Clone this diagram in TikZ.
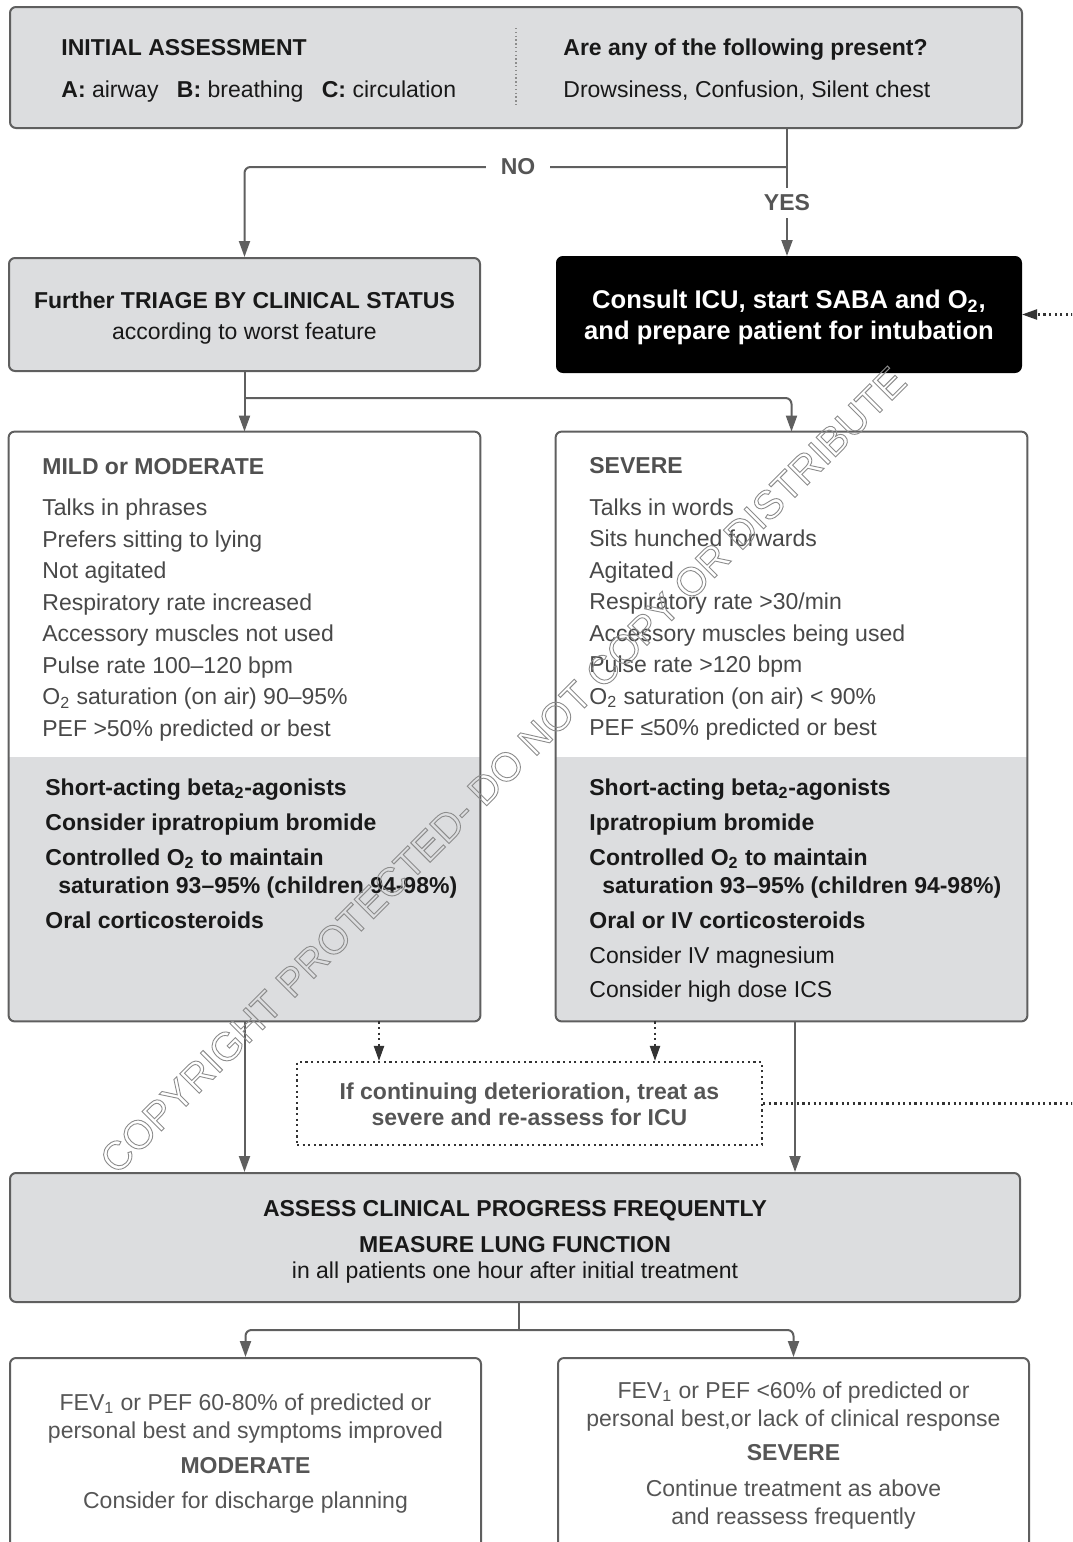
\documentclass[tikz,border=0pt]{standalone}
\usepackage{fontspec}
\setmainfont{Liberation Sans}
\usetikzlibrary{arrows.meta}
\definecolor{boxfill}{RGB}{220,221,223}
\definecolor{edge}{RGB}{95,95,95}
\definecolor{txtgray}{RGB}{72,72,72}
\definecolor{hdgray}{RGB}{80,80,80}
\definecolor{lblgray}{RGB}{85,85,85}
\definecolor{dark}{RGB}{25,25,25}
\definecolor{wmark}{RGB}{140,140,140}
\newcommand\fsz{\fontsize{11.5}{13.5}\selectfont}
\newcommand\fbig{\fontsize{12.8}{15}\selectfont}
\begin{document}
\begin{tikzpicture}[x=0.5pt,y=-0.5pt,
  box/.style={draw=edge, line width=1pt, rounded corners=3pt, inner sep=0pt},
  graybox/.style={box, fill=boxfill},
  conn/.style={draw=edge, line width=1pt},
  arr/.style={conn, -{Triangle[width=5.5pt,length=8pt]}},
  dotln/.style={draw=black!80, line width=1.1pt, dash pattern=on 1.1pt off 1.7pt},
  dotarr/.style={dotln, -{Triangle[width=5pt,length=7.5pt]}},
  lbl/.style={fill=white, text=lblgray, font=\bfseries\fsz, inner xsep=7.5pt, inner ysep=3.5pt},
  tl/.style={inner sep=0pt, anchor=base west, font=\fsz},
  tc/.style={inner sep=0pt, anchor=base, font=\fsz},
]
\useasboundingbox (0,0) rectangle (1072,1542);
\clip (0,0) rectangle (1072,1542);

% ---------- boxes ----------
\node[graybox, minimum width=506pt, minimum height=60.5pt] (top) at (516,67.5) {};
\node[graybox, minimum width=235.5pt, minimum height=56.5pt] (triage) at (244.5,314.5) {};
\node[box, fill=black, draw=black, minimum width=232pt, minimum height=57.5pt] (icu) at (789,314.5) {};
\node[inner sep=0pt, fill=white, rounded corners=3pt, minimum width=235.5pt, minimum height=294.5pt] (mild) at (244.5,726.5) {};
\node[inner sep=0pt, fill=white, rounded corners=3pt, minimum width=235.5pt, minimum height=294.5pt] (severe) at (791.5,726.5) {};
\begin{scope}
  \clip (0,757) rectangle (1072,1030);
  \fill[boxfill, rounded corners=3pt] (mild.south west) rectangle (mild.north east);
  \fill[boxfill, rounded corners=3pt] (severe.south west) rectangle (severe.north east);
\end{scope}
\draw[box] (mild.south west) rectangle (mild.north east);
\draw[box] (severe.south west) rectangle (severe.north east);
\node[draw=black!80, line width=1.1pt, dash pattern=on 1.1pt off 1.7pt, inner sep=0pt, minimum width=232.5pt, minimum height=41.5pt] (dotbox) at (529.5,1103.5) {};
\node[graybox, minimum width=505pt, minimum height=64.5pt] (assess) at (515,1237.5) {};
\node[box, fill=white, minimum width=235.5pt, minimum height=106pt] (modbox) at (245.5,1464) {};
\node[box, fill=white, minimum width=235.5pt, minimum height=106pt] (sevbox) at (793.5,1464) {};

% separator in top box
\draw[draw=black!45, line width=0.7pt, dash pattern=on 0.7pt off 1.2pt] (516,28) -- (516,107);

% ---------- texts ----------
\node[tl, text=dark, font=\bfseries\fsz] (ia) at (61,55) {INITIAL ASSESSMENT};
\node[tl, text=dark] (abc) at (61,97) {\textbf{A:} airway\hspace{0.8em}\textbf{B:} breathing\hspace{0.8em}\textbf{C:} circulation};
\node[tl, text=dark, font=\bfseries\fsz] (q) at (563,55) {Are any of the following present?};
\node[tl, text=dark] (dcs) at (563,97) {Drowsiness, Confusion, Silent chest};

\node[tc, text=dark, font=\bfseries\fsz] (tr1) at (244.5,308) {Further TRIAGE BY CLINICAL STATUS};
\node[tc, text=dark] (tr2) at (244.5,339) {according to worst feature};

\node[tc, text=white, font=\bfseries\fbig] (icu1) at (789,308) {Consult ICU, start SABA and O\textsubscript{2},};
\node[tc, text=white, font=\bfseries\fbig] (icu2) at (789,339) {and prepare patient for intubation};

\node[tl, text=hdgray, font=\bfseries\fsz] (mh) at (42,474) {MILD or MODERATE};
\foreach \t [count=\i] in {{Talks in phrases},{Prefers sitting to lying},{Not agitated},{Respiratory rate increased},{Accessory muscles not used},{Pulse rate 100–120 bpm},{O\textsubscript{2} saturation (on air) 90–95\%},{PEF >50\% predicted or best}}
  \node[tl, text=txtgray] (m\i) at (42,{515.5+31.5*(\i-1)}) {\t};

\node[tl, text=hdgray, font=\bfseries\fsz] (sh) at (589,473) {SEVERE};
\foreach \t [count=\i] in {{Talks in words},{Sits hunched forwards},{Agitated},{Respiratory rate >30/min},{Accessory muscles being used},{Pulse rate >120 bpm},{O\textsubscript{2} saturation (on air) < 90\%},{PEF ≤50\% predicted or best}}
  \node[tl, text=txtgray] (s\i) at (589,{515+31.5*(\i-1)}) {\t};

\node[tl, text=dark, font=\bfseries\fsz] (mt1) at (45,795) {Short-acting beta\textsubscript{2}-agonists};
\node[tl, text=dark, font=\bfseries\fsz] (mt2) at (45,830.5) {Consider ipratropium bromide};
\node[tl, text=dark, font=\bfseries\fsz] (mt3) at (45,865) {Controlled O\textsubscript{2} to maintain};
\node[tl, text=dark, font=\bfseries\fsz] (mt4) at (58,893) {saturation 93–95\% (children 94-98\%)};
\node[tl, text=dark, font=\bfseries\fsz] (mt5) at (45,928) {Oral corticosteroids};

\node[tl, text=dark, font=\bfseries\fsz] (st1) at (589,795) {Short-acting beta\textsubscript{2}-agonists};
\node[tl, text=dark, font=\bfseries\fsz] (st2) at (589,830.5) {Ipratropium bromide};
\node[tl, text=dark, font=\bfseries\fsz] (st3) at (589,865) {Controlled O\textsubscript{2} to maintain};
\node[tl, text=dark, font=\bfseries\fsz] (st4) at (602,893) {saturation 93–95\% (children 94-98\%)};
\node[tl, text=dark, font=\bfseries\fsz] (st5) at (589,928) {Oral or IV corticosteroids};
\node[tl, text=dark] (st6) at (589,963) {Consider IV magnesium};
\node[tl, text=dark] (st7) at (589,997.5) {Consider high dose ICS};

\node[tc, text=lblgray, font=\bfseries\fsz] (dt1) at (529.5,1099) {If continuing deterioration, treat as};
\node[tc, text=lblgray, font=\bfseries\fsz] (dt2) at (529.5,1125) {severe and re-assess for ICU};

\node[tc, text=dark, font=\bfseries\fsz] (as1) at (515,1216) {ASSESS CLINICAL PROGRESS FREQUENTLY};
\node[tc, text=dark, font=\bfseries\fsz] (as2) at (515,1252) {MEASURE LUNG FUNCTION};
\node[tc, text=dark] (as3) at (515,1278) {in all patients one hour after initial treatment};

\node[tc, text=lblgray] (b1) at (245.5,1410) {FEV\textsubscript{1} or PEF 60-80\% of predicted or};
\node[tc, text=lblgray] (b2) at (245.5,1438) {personal best and symptoms improved};
\node[tc, text=lblgray, font=\bfseries\fsz] (b3) at (245.5,1473) {MODERATE};
\node[tc, text=lblgray] (b4) at (245.5,1508) {Consider for discharge planning};

\node[tc, text=lblgray] (c1) at (793.5,1398) {FEV\textsubscript{1} or PEF <60\% of predicted or};
\node[tc, text=lblgray] (c2) at (793.5,1426) {personal best,or lack of clinical response};
\node[tc, text=lblgray, font=\bfseries\fsz] (c3) at (793.5,1460) {SEVERE};
\node[tc, text=lblgray] (c4) at (793.5,1496) {Continue treatment as above};
\node[tc, text=lblgray] (c5) at (793.5,1524) {and reassess frequently};

% ---------- connectors ----------
\coordinate (j1) at (787,167);
\draw[conn] (top.south -| j1) -- (j1);
\draw[arr, rounded corners=3pt] (j1) -| (triage.north);
\draw[arr] (j1) -- (icu.north -| j1);
\node[lbl] (no) at (518,167) {NO};
\node[lbl] (yes) at (787,203) {YES};

\coordinate (j2) at (244.5,398);
\draw[arr] (triage.south) -- (mild.north);
\draw[arr, rounded corners=3pt] (j2) -| (severe.north);

\coordinate (d1) at (379,0);
\coordinate (d2) at (655,0);
\draw[dotarr] (mild.south -| d1) -- (dotbox.north -| d1);
\draw[dotarr] (severe.south -| d2) -- (dotbox.north -| d2);

\coordinate (s2) at (795,0);
\draw[arr] (mild.south) -- (assess.north -| mild.south);
\draw[arr] (severe.south -| s2) -- (assess.north -| s2);

\coordinate (r1) at (1095,0);
\draw[dotarr] (dotbox.east) -- (dotbox.east -| r1) -- (icu.east -| r1) -- (icu.east);

\coordinate (j3) at (519,1330);
\draw[conn] (assess.south -| j3) -- (j3);
\draw[arr, rounded corners=3pt] (j3) -| (modbox.north);
\draw[arr, rounded corners=3pt] (j3) -| (sevbox.north);

% ---------- watermark ----------
\node[rotate=45, inner sep=0pt, text=wmark, font=\fontsize{20}{20}\selectfont] (wm) at (503,770) {\special{pdf:code 1 Tr 0.45 w}COPYRIGHT PROTECTED- DO NOT COPY OR DISTRIBUTE\special{pdf:code 0 Tr}};
\end{tikzpicture}
\end{document}
